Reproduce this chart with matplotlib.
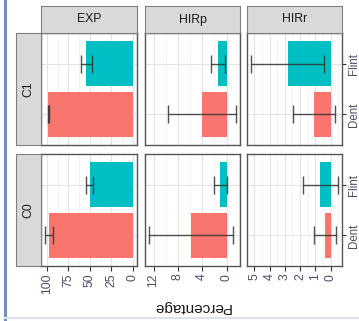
import numpy as np
import matplotlib
matplotlib.use("Agg")
import matplotlib.pyplot as plt
from matplotlib.ticker import AutoMinorLocator, FixedLocator
from matplotlib.lines import Line2D

plt.rcParams['font.family'] = ['Liberation Sans', 'DejaVu Sans']

# data
conditions = ["C1", "C0"]
variables = ["EXP", "HIRp", "HIRr"]
types = ["Dent", "Flint"]
colors = ["#F8766D", "#00BFC4"]

# means [condition][type]
exp_mean = [[98.5, 54.0], [97.5, 50.0]]
exp_err = [[1.0, 6.5], [4.5, 4.0]]
hirp_mean = [[4.1, 1.4], [5.8, 1.0]]
hirp_err = [[5.6, 1.2], [6.9, 1.1]]
hirr_mean = [[1.1, 2.8], [0.38, 0.68]]
hirr_err = [[1.38, 2.4], [0.72, 1.15]]

means = {"EXP": exp_mean, "HIRp": hirp_mean, "HIRr": hirr_mean}
errs = {"EXP": exp_err, "HIRp": hirp_err, "HIRr": hirr_err}
breaks = {"EXP": [0, 25, 50, 75, 100], "HIRp": [0, 4, 8, 12], "HIRr": [0, 1, 2, 3, 4, 5]}

W, H = 359, 321
fig = plt.figure(figsize=(W / 100, H / 100), dpi=100)

def fx(px):
    return px / W

def fy(py):
    return 1 - py / H

col_x = [(41, 137), (145, 240), (247, 342)]
row_y = [(33, 145), (154, 266)]
tick_col = "#4d4d66"
border = "#555555"

for j, var in enumerate(variables):
    m = np.array(means[var])
    e = np.array(errs[var])
    lo = min(0, (m - e).min())
    hi = (m + e).max()
    pad = 0.05 * (hi - lo)
    for i, cond in enumerate(conditions):
        x0, x1 = col_x[j]
        y0, y1 = row_y[i]
        ax = fig.add_axes([fx(x0), fy(y1), fx(x1 - x0), (y1 - y0) / H])
        ax.set_facecolor("white")
        ypos = np.arange(1, len(types) + 1)
        ax.barh(ypos, m[i], height=0.9, color=colors, zorder=2)
        ax.errorbar(m[i], ypos, xerr=e[i], fmt="none", ecolor="#333333",
                    alpha=0.85, elinewidth=1, capsize=6.5, capthick=1, zorder=3)
        ax.set_xlim(hi + pad, lo - pad)
        ax.set_ylim(0.4, len(types) + 0.6)
        ax.xaxis.set_major_locator(FixedLocator(breaks[var]))
        ax.xaxis.set_minor_locator(AutoMinorLocator(2))
        ax.set_yticks(ypos)
        ax.grid(True, which="major", color="#e3e3e3", lw=0.8, zorder=0)
        ax.grid(True, which="minor", axis="x", color="#eeeeee", lw=0.5, zorder=0)
        ax.set_axisbelow(True)
        for s in ax.spines.values():
            s.set_color(border)
            s.set_linewidth(1)
        ax.tick_params(which="minor", length=0)
        if i == len(conditions) - 1:
            ax.tick_params(axis="x", which="major", length=3.5, width=0.8, color="#333333",
                           labelsize=8.8, labelcolor=tick_col, labelrotation=90, pad=2)
        else:
            ax.tick_params(axis="x", which="major", length=0, labelbottom=False)
        if j == len(variables) - 1:
            ax.yaxis.tick_right()
            ax.set_yticklabels(types)
            ax.tick_params(axis="y", length=3, width=0.8, color="#333333",
                           labelsize=8.3, labelcolor=tick_col, pad=1.5)
            for lab in ax.get_yticklabels():
                lab.set_rotation(90)
                lab.set_va("center")
        else:
            ax.tick_params(axis="y", length=0, labelleft=False)

    # top strip
    x0, x1 = col_x[j]
    sa = fig.add_axes([fx(x0), fy(33), fx(x1 - x0), 27 / H])
    sa.set_facecolor("#d9d9d9")
    sa.set_xticks([])
    sa.set_yticks([])
    for s in sa.spines.values():
        s.set_color("#7f7f7f")
    sa.text(0.5, 0.5, var, ha="center", va="center", fontsize=8.8,
            color="#1a1a1a", transform=sa.transAxes)

for i, cond in enumerate(conditions):
    y0, y1 = row_y[i]
    sa = fig.add_axes([fx(16), fy(y1), fx(25), (y1 - y0) / H])
    sa.set_facecolor("#d9d9d9")
    sa.set_xticks([])
    sa.set_yticks([])
    for s in sa.spines.values():
        s.set_color("#7f7f7f")
    sa.text(0.5, 0.5, cond, ha="center", va="center", fontsize=8.8, rotation=90,
            color="#1a1a1a", transform=sa.transAxes)

fig.text(fx(192), fy(307), "Percentage", ha="center", va="center", rotation=180,
         fontsize=11, color="#1a1a1a")

# screenshot frame lines
fig.add_artist(Line2D([fx(4.5), fx(4.5)], [0, 1], color="#7090c0", lw=2.2))
fig.add_artist(Line2D([fx(5), 1], [fy(318), fy(318)], color="#dde3ee", lw=1.5))

fig.savefig("out.png", dpi=100)
